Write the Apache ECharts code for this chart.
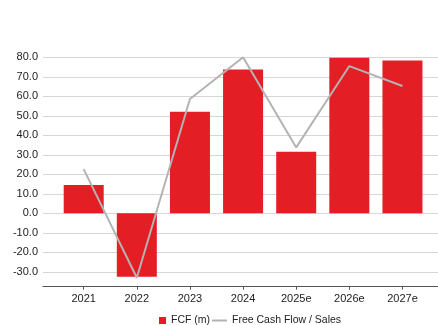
<!DOCTYPE html>
<html>
<head>
<meta charset="utf-8">
<script src="https://cdn.jsdelivr.net/npm/echarts@6/dist/echarts.min.js"></script>
<style>html,body{margin:0;padding:0;background:#fff;}#c{width:438px;height:325px;}</style>
</head>
<body>
<div id="c"></div>
<script>
const categories = ['2021', '2022', '2023', '2024', '2025e', '2026e', '2027e'];
const fcf = [14.5, -32.5, 52.1, 73.8, 31.6, 79.8, 78.3];
const fcfSales = [22.7, -33.0, 58.6, 80.0, 33.8, 75.5, 65.3];
const yTicks = [-30, -20, -10, 0, 10, 20, 30, 40, 50, 60, 70, 80];
const catIdx = categories.map((c, i) => i);

const chart = echarts.init(document.getElementById('c'), null, {renderer: 'canvas'});
const font = 'Liberation Sans, Arial, sans-serif';
const legendText = {color: '#222', fontSize: 10.5, fontFamily: font};
chart.setOption({
  animation: false,
  grid: {left: 43, right: 0, top: 57.3, bottom: 38.3, containLabel: false},
  xAxis: {
    type: 'value',
    min: -0.766,
    max: 6.669,
    splitLine: {show: false},
    axisLine: {show: true, onZero: false, lineStyle: {color: '#555', width: 1}},
    axisTick: {show: true, customValues: catIdx, length: 3, lineStyle: {color: '#555'}},
    axisLabel: {
      customValues: catIdx,
      formatter: v => categories[Math.round(v)],
      color: '#222', fontSize: 11, fontFamily: font, margin: 7
    }
  },
  yAxis: {
    type: 'value',
    min: -37.6,
    max: 80,
    axisLine: {show: false},
    axisTick: {show: false, customValues: yTicks},
    axisLabel: {customValues: yTicks, formatter: v => v.toFixed(1), color: '#222', fontSize: 11, fontFamily: font, margin: 5},
    splitLine: {show: true, lineStyle: {color: '#d6d6d6', width: 1}}
  },
  legend: [
    {
      left: 159, top: 315, padding: 0,
      itemWidth: 7, itemHeight: 7,
      textStyle: legendText,
      data: [{name: 'FCF (m)', icon: 'rect', itemStyle: {color: '#e31e24'}}]
    },
    {
      left: 211, top: 315, padding: 0,
      itemWidth: 15, itemHeight: 7,
      textStyle: legendText,
      data: [{name: 'Free Cash Flow / Sales', itemStyle: {opacity: 0}}]
    }
  ],
  series: [
    {
      name: 'FCF (m)', type: 'bar', barWidth: 40,
      itemStyle: {color: '#e31e24'},
      data: fcf.map((v, i) => [i, v])
    },
    {
      name: 'Free Cash Flow / Sales', type: 'line', symbol: 'none',
      lineStyle: {color: '#b3b3b3', width: 2},
      itemStyle: {color: '#b3b3b3'},
      data: fcfSales.map((v, i) => [i, v])
    }
  ]
});
</script>
</body>
</html>
